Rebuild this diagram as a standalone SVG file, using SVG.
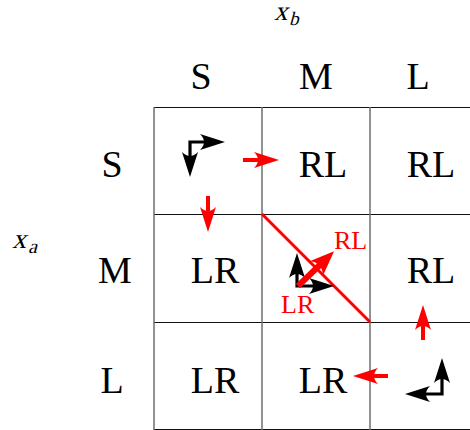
<svg xmlns="http://www.w3.org/2000/svg" width="470" height="430" viewBox="0 0 470 430">
<style>
.lbl{font-family:"Liberation Serif","Times New Roman",serif;font-size:38px;fill:#000;text-anchor:middle}
.rl{font-family:"Liberation Serif","Times New Roman",serif;font-size:26px;fill:#f00}
.math{font-family:"Liberation Serif","Times New Roman",serif;fill:#000}
.vl{stroke:#6e6e6e;stroke-width:1.5}
.hl{stroke:#111;stroke-width:1}
.ba{fill:none;stroke:#000;stroke-width:3.2;stroke-linejoin:miter}
.ra{fill:none;stroke:#f00;stroke-width:4}
</style>
<defs>
<marker id="hb" markerUnits="userSpaceOnUse" viewBox="-12 -9 28 18" refX="0" refY="0" markerWidth="28" markerHeight="18" orient="auto-start-reverse" overflow="visible">
<path d="M14,0 L-11,-8 Q-3,0 -11,8 Z" fill="#000"/>
</marker>
<marker id="hr" markerUnits="userSpaceOnUse" viewBox="-12 -9 28 18" refX="0" refY="0" markerWidth="28" markerHeight="18" orient="auto" overflow="visible">
<path d="M14,0 L-11,-8 Q-3,0 -11,8 Z" fill="#f00"/>
</marker>
<marker id="hr2" markerUnits="userSpaceOnUse" viewBox="-12 -10 28 20" refX="0" refY="0" markerWidth="28" markerHeight="20" orient="auto" overflow="visible">
<path d="M14,0 L-10,-9.5 Q-3,0 -10,9.5 Z" fill="#f00"/>
</marker>
</defs>
<g id="grid">
<line class="hl" x1="154" y1="107.5" x2="470" y2="107.5"/>
<line class="hl" x1="154" y1="214.5" x2="470" y2="214.5"/>
<line class="hl" x1="154" y1="322.5" x2="470" y2="322.5"/>
<line class="hl" x1="154" y1="429.5" x2="470" y2="429.5"/>
<line class="vl" x1="154" y1="107" x2="154" y2="430"/>
<line class="vl" x1="262" y1="107" x2="262" y2="430"/>
<line class="vl" x1="370" y1="107" x2="370" y2="430"/>
</g>
<g id="axis-labels">
<text class="math" transform="translate(274,20) skewX(-15)" font-size="27">x</text>
<text class="math" transform="translate(289,25) skewX(-15)" font-size="19">b</text>
<text class="math" transform="translate(12,248) skewX(-15)" font-size="28">x</text>
<text class="math" transform="translate(28,253) skewX(-15)" font-size="20">a</text>
</g>
<g id="headers">
<text class="lbl" x="201" y="89">S</text>
<text class="lbl" x="316" y="89">M</text>
<text class="lbl" x="418" y="89">L</text>
<text class="lbl" x="112" y="177">S</text>
<text class="lbl" x="115" y="283">M</text>
<text class="lbl" x="112" y="393">L</text>
</g>
<g id="cell-0-0"><path class="ba" d="M211,142 L190,142 L190,163" marker-start="url(#hb)" marker-end="url(#hb)"/></g>
<g id="cell-0-1"><text class="lbl" x="323" y="177">RL</text></g>
<g id="cell-0-2"><text class="lbl" x="431" y="177">RL</text></g>
<g id="cell-1-0"><text class="lbl" x="215" y="283">LR</text></g>
<g id="cell-1-1">
<line x1="262" y1="214" x2="370" y2="322" stroke="#f00" stroke-width="3"/>
<path class="ba" d="M297,267 L297,286 L320,286" marker-start="url(#hb)" marker-end="url(#hb)"/>
<line x1="298" y1="286" x2="324" y2="261" stroke="#f00" stroke-width="6" marker-end="url(#hr2)"/>
<text class="rl" x="334" y="249">RL</text>
<text class="rl" x="281" y="313">LR</text>
</g>
<g id="cell-1-2"><text class="lbl" x="431" y="283">RL</text></g>
<g id="cell-2-0"><text class="lbl" x="215" y="393">LR</text></g>
<g id="cell-2-1"><text class="lbl" x="323" y="393">LR</text></g>
<g id="cell-2-2"><path class="ba" d="M442,372 L442,394 L419,394" marker-start="url(#hb)" marker-end="url(#hb)"/></g>
<g id="connectors">
<line class="ra" x1="243" y1="160" x2="265" y2="160" marker-end="url(#hr)"/>
<line class="ra" x1="208" y1="196" x2="208" y2="218" marker-end="url(#hr)"/>
<line class="ra" x1="423" y1="340" x2="423" y2="319" marker-end="url(#hr)"/>
<line class="ra" x1="388" y1="376" x2="367" y2="376" marker-end="url(#hr)"/>
</g>
</svg>
